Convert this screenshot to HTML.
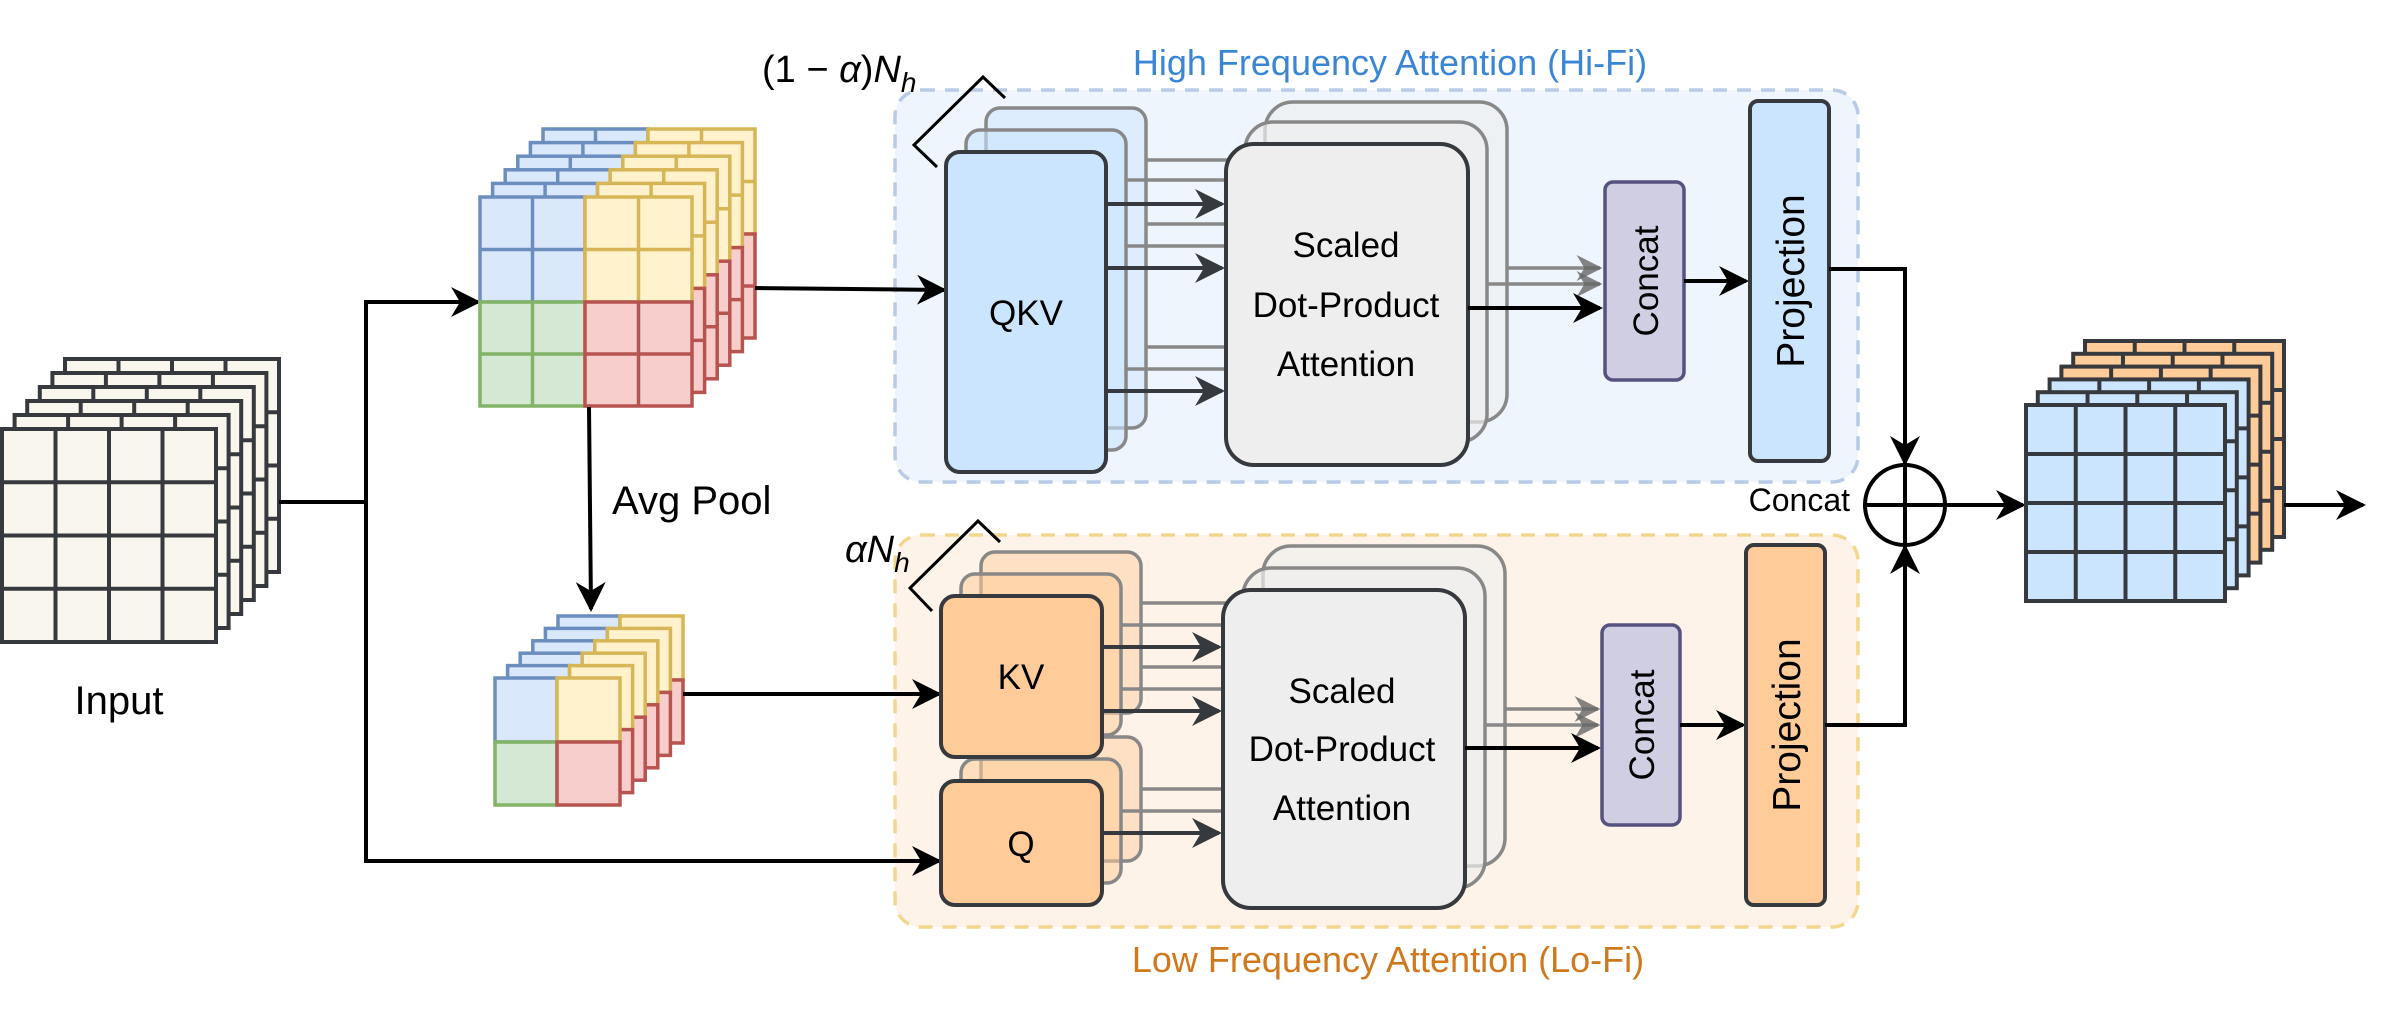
<!DOCTYPE html>
<html><head><meta charset="utf-8"><style>
html,body{margin:0;padding:0;background:#fff;}
svg{display:block;}
text{font-family:"Liberation Sans",Arial,sans-serif;}
</style></head><body>
<svg width="2392" height="1024" viewBox="0 0 2392 1024" xmlns="http://www.w3.org/2000/svg">
<defs>
<marker id="ah" viewBox="0 0 20 20" refX="18" refY="10" markerWidth="30" markerHeight="30" markerUnits="userSpaceOnUse" orient="auto"><path d="M0,0 L20,10 L0,20 L6,10 Z" fill="#000"/></marker>
<marker id="ahd" viewBox="0 0 20 20" refX="18" refY="10" markerWidth="30" markerHeight="30" markerUnits="userSpaceOnUse" orient="auto"><path d="M0,0 L20,10 L0,20 L6,10 Z" fill="#36393d"/></marker>
<marker id="ahg" viewBox="0 0 20 20" refX="18" refY="10" markerWidth="26" markerHeight="26" markerUnits="userSpaceOnUse" orient="auto"><path d="M0,0 L20,10 L0,20 L6,10 Z" fill="#666" fill-opacity="0.8"/></marker>
<g id="inL">
<rect x="0" y="0" width="214" height="213" fill="#f9f7ed" stroke="#36393d" stroke-width="4"/>
<path d="M53.5,0V213M107,0V213M160.5,0V213M0,53.25H214M0,106.5H214M0,159.75H214" stroke="#36393d" stroke-width="4"/>
</g>
<g id="outB">
<rect x="0" y="0" width="199" height="196" fill="#cce5ff" stroke="#36393d" stroke-width="4"/>
<path d="M49.75,0V196M99.5,0V196M149.25,0V196M0,49H199M0,98H199M0,147H199" stroke="#36393d" stroke-width="4"/>
</g>
<g id="outO">
<rect x="0" y="0" width="199" height="196" fill="#ffcc99" stroke="#36393d" stroke-width="4"/>
<path d="M49.75,0V196M99.5,0V196M149.25,0V196M0,49H199M0,98H199M0,147H199" stroke="#36393d" stroke-width="4"/>
</g>
<g id="patch">
<rect x="0" y="0" width="105" height="105" fill="#dae8fc" stroke="#6c8ebf" stroke-width="3.5"/>
<path d="M52.5,0V105M0,52.5H105" stroke="#6c8ebf" stroke-width="3.5"/>
<rect x="105" y="0" width="107" height="105" fill="#fff2cc" stroke="#d6b656" stroke-width="3.5"/>
<path d="M158.5,0V105M105,52.5H212" stroke="#d6b656" stroke-width="3.5"/>
<rect x="0" y="105" width="105" height="104" fill="#d5e8d4" stroke="#82b366" stroke-width="3.5"/>
<path d="M52.5,105V209M0,157H105" stroke="#82b366" stroke-width="3.5"/>
<rect x="105" y="105" width="107" height="104" fill="#f8cecc" stroke="#b85450" stroke-width="3.5"/>
<path d="M158.5,105V209M105,157H212" stroke="#b85450" stroke-width="3.5"/>
</g>
<g id="small">
<rect x="0" y="0" width="62" height="64" fill="#dae8fc" stroke="#6c8ebf" stroke-width="3.5"/>
<rect x="62" y="0" width="63" height="64" fill="#fff2cc" stroke="#d6b656" stroke-width="3.5"/>
<rect x="0" y="64" width="62" height="63" fill="#d5e8d4" stroke="#82b366" stroke-width="3.5"/>
<rect x="62" y="64" width="63" height="63" fill="#f8cecc" stroke="#b85450" stroke-width="3.5"/>
</g>
</defs>

<rect x="895" y="90" width="963" height="392" rx="26" fill="#eef5fd" stroke="#b7cbe6" stroke-width="3.5" stroke-dasharray="14,10"/>
<rect x="895" y="535" width="963" height="392" rx="26" fill="#fdf3e8" stroke="#f3d78f" stroke-width="3.5" stroke-dasharray="14,10"/>
<text x="1390" y="75" font-size="36" fill="#3a86d6" text-anchor="middle">High Frequency Attention (Hi-Fi)</text>
<text x="1388" y="972" font-size="36" fill="#d0781c" text-anchor="middle">Low Frequency Attention (Lo-Fi)</text>

<use href="#inL" x="65" y="359"/>
<use href="#inL" x="52.4" y="373"/>
<use href="#inL" x="39.8" y="387"/>
<use href="#inL" x="27.2" y="401"/>
<use href="#inL" x="14.6" y="415"/>
<use href="#inL" x="2" y="429"/>
<text x="119" y="714" font-size="40" text-anchor="middle" fill="#000">Input</text>

<path d="M279,502 H366 V302 H478" fill="none" stroke="#000" stroke-width="4" marker-end="url(#ah)"/>
<path d="M366,502 V861 H939" fill="none" stroke="#000" stroke-width="4" marker-end="url(#ah)"/>

<use href="#patch" x="543" y="129"/>
<use href="#patch" x="530.4" y="142.6"/>
<use href="#patch" x="517.8" y="156.2"/>
<use href="#patch" x="505.2" y="169.8"/>
<use href="#patch" x="492.6" y="183.4"/>
<use href="#patch" x="480" y="197"/>

<path d="M755,288 L944,290" fill="none" stroke="#000" stroke-width="4" marker-end="url(#ah)"/>
<path d="M589,407 L591,609" fill="none" stroke="#000" stroke-width="4" marker-end="url(#ah)"/>
<text x="612" y="514" font-size="40" fill="#000">Avg Pool</text>

<use href="#small" x="558" y="616"/>
<use href="#small" x="545.4" y="628.4"/>
<use href="#small" x="532.8" y="640.8"/>
<use href="#small" x="520.2" y="653.2"/>
<use href="#small" x="507.6" y="665.6"/>
<use href="#small" x="495" y="678"/>
<path d="M683,694 L939,694" fill="none" stroke="#000" stroke-width="4" marker-end="url(#ah)"/>

<path d="M937,167 L914,145 L983,77 L1005,98" fill="none" stroke="#000" stroke-width="3"/>
<text x="762" y="82" font-size="38" font-family="Liberation Serif,serif" fill="#000">(1 − <tspan font-style="italic">α</tspan>)<tspan font-style="italic">N</tspan><tspan font-style="italic" font-size="28" dy="10">h</tspan></text>
<path d="M932,611 L910,588 L978,521 L1000,542" fill="none" stroke="#000" stroke-width="3"/>
<text x="845" y="562" font-size="38" font-family="Liberation Serif,serif" font-style="italic" fill="#000">α<tspan>N</tspan><tspan font-size="28" dy="10">h</tspan></text>

<rect x="986" y="108" width="160" height="320" rx="14" fill="#cce5ff" fill-opacity="0.5" stroke="#888" stroke-width="3.5"/>
<rect x="966" y="130" width="160" height="320" rx="14" fill="#cce5ff" fill-opacity="0.6" stroke="#888" stroke-width="3.5"/>
<g stroke="#888" stroke-width="3.5">
<path d="M1146,160H1230M1126,180H1230M1146,224H1230M1126,246H1230M1146,347H1230M1126,369H1230"/>
</g>
<rect x="946" y="152" width="160" height="320" rx="14" fill="#cce5ff" stroke="#36393d" stroke-width="4"/>
<text x="1026" y="325" font-size="35" text-anchor="middle" fill="#000">QKV</text>
<rect x="1265" y="102" width="242" height="320" rx="28" fill="#eeeeee" fill-opacity="0.6" stroke="#888" stroke-width="3.5"/>
<rect x="1245" y="122" width="242" height="320" rx="28" fill="#eeeeee" fill-opacity="0.7" stroke="#888" stroke-width="3.5"/>
<g stroke="#36393d" stroke-width="4" fill="none">
<path d="M1106,204H1222" marker-end="url(#ahd)"/>
<path d="M1106,268H1222" marker-end="url(#ahd)"/>
<path d="M1106,391H1222" marker-end="url(#ahd)"/>
</g>
<rect x="1226" y="144" width="242" height="321" rx="28" fill="#eeeeee" stroke="#36393d" stroke-width="4"/>
<text x="1346" y="257" font-size="35" text-anchor="middle" fill="#000">Scaled</text>
<text x="1346" y="317" font-size="35" text-anchor="middle" fill="#000">Dot-Product</text>
<text x="1346" y="376" font-size="35" text-anchor="middle" fill="#000">Attention</text>
<g stroke="#888" stroke-width="3.5" fill="none">
<path d="M1507,268H1600" marker-end="url(#ahg)"/>
<path d="M1487,284H1600" marker-end="url(#ahg)"/>
</g>
<path d="M1468,308H1600" stroke="#000" stroke-width="4" fill="none" marker-end="url(#ah)"/>
<rect x="1605" y="182" width="79" height="198" rx="8" fill="#d0cee2" stroke="#56517e" stroke-width="3.5"/>
<text transform="translate(1658,281) rotate(-90)" font-size="35" text-anchor="middle" fill="#000">Concat</text>
<path d="M1684,281H1746" stroke="#000" stroke-width="4" fill="none" marker-end="url(#ah)"/>
<rect x="1750" y="101" width="79" height="360" rx="8" fill="#cce5ff" stroke="#36393d" stroke-width="4"/>
<text transform="translate(1804,281) rotate(-90)" font-size="39" text-anchor="middle" fill="#000">Projection</text>
<path d="M1829,269H1905V463" stroke="#000" stroke-width="4" fill="none" marker-end="url(#ah)"/>

<rect x="981" y="552" width="160" height="161" rx="14" fill="#ffcc99" fill-opacity="0.45" stroke="#888" stroke-width="3.5"/>
<rect x="961" y="574" width="160" height="161" rx="14" fill="#ffcc99" fill-opacity="0.55" stroke="#888" stroke-width="3.5"/>
<rect x="981" y="737" width="160" height="124" rx="14" fill="#ffcc99" fill-opacity="0.45" stroke="#888" stroke-width="3.5"/>
<rect x="961" y="759" width="160" height="124" rx="14" fill="#ffcc99" fill-opacity="0.55" stroke="#888" stroke-width="3.5"/>
<g stroke="#888" stroke-width="3.5">
<path d="M1141,603H1226M1121,625H1226M1141,667H1226M1121,689H1226M1141,789H1226M1121,811H1226"/>
</g>
<rect x="941" y="596" width="161" height="161" rx="14" fill="#ffcc99" stroke="#36393d" stroke-width="4"/>
<text x="1021" y="689" font-size="35" text-anchor="middle" fill="#000">KV</text>
<rect x="941" y="781" width="161" height="124" rx="14" fill="#ffcc99" stroke="#36393d" stroke-width="4"/>
<text x="1021" y="856" font-size="35" text-anchor="middle" fill="#000">Q</text>
<rect x="1263" y="546" width="242" height="320" rx="28" fill="#eeeeee" fill-opacity="0.6" stroke="#888" stroke-width="3.5"/>
<rect x="1243" y="568" width="242" height="320" rx="28" fill="#eeeeee" fill-opacity="0.7" stroke="#888" stroke-width="3.5"/>
<g stroke="#36393d" stroke-width="4" fill="none">
<path d="M1102,647H1219" marker-end="url(#ahd)"/>
<path d="M1102,711H1219" marker-end="url(#ahd)"/>
<path d="M1102,833H1219" marker-end="url(#ahd)"/>
</g>
<rect x="1223" y="590" width="242" height="318" rx="28" fill="#eeeeee" stroke="#36393d" stroke-width="4"/>
<text x="1342" y="703" font-size="35" text-anchor="middle" fill="#000">Scaled</text>
<text x="1342" y="761" font-size="35" text-anchor="middle" fill="#000">Dot-Product</text>
<text x="1342" y="820" font-size="35" text-anchor="middle" fill="#000">Attention</text>
<g stroke="#888" stroke-width="3.5" fill="none">
<path d="M1505,709H1598" marker-end="url(#ahg)"/>
<path d="M1485,725H1598" marker-end="url(#ahg)"/>
</g>
<path d="M1465,748H1598" stroke="#000" stroke-width="4" fill="none" marker-end="url(#ah)"/>
<rect x="1602" y="625" width="78" height="200" rx="8" fill="#d0cee2" stroke="#56517e" stroke-width="3.5"/>
<text transform="translate(1654,725) rotate(-90)" font-size="35" text-anchor="middle" fill="#000">Concat</text>
<path d="M1680,725H1743" stroke="#000" stroke-width="4" fill="none" marker-end="url(#ah)"/>
<rect x="1746" y="545" width="79" height="360" rx="8" fill="#ffcc99" stroke="#36393d" stroke-width="4"/>
<text transform="translate(1800,725) rotate(-90)" font-size="39" text-anchor="middle" fill="#000">Projection</text>
<path d="M1825,725H1905V547" stroke="#000" stroke-width="4" fill="none" marker-end="url(#ah)"/>

<circle cx="1905" cy="505" r="40" fill="#fff" stroke="#000" stroke-width="4"/>
<path d="M1865,505H1945M1905,465V545" stroke="#000" stroke-width="4"/>
<text x="1850" y="511" font-size="32" text-anchor="end" fill="#000">Concat</text>
<path d="M1945,505H2023" stroke="#000" stroke-width="4" fill="none" marker-end="url(#ah)"/>

<use href="#outO" x="2085" y="341"/>
<use href="#outO" x="2073.2" y="353.8"/>
<use href="#outO" x="2061.4" y="366.6"/>
<use href="#outB" x="2049.6" y="379.4"/>
<use href="#outB" x="2037.8" y="392.2"/>
<use href="#outB" x="2026" y="405"/>
<path d="M2284,505H2363" stroke="#000" stroke-width="4" fill="none" marker-end="url(#ah)"/>
</svg>
</body></html>
